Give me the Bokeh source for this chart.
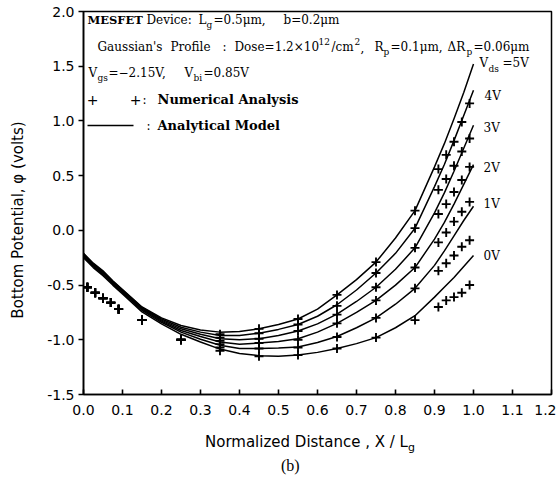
import math
from bokeh.plotting import figure
from bokeh.models import Label, Range1d, FixedTicker, PrintfTickFormatter, BoxAnnotation, Div
from bokeh.layouts import column, row
from bokeh.embed import file_html
from bokeh.resources import INLINE

# ---------------- data ----------------
vds_labels = ["5V", "4V", "3V", "2V", "1V", "0V"]

x_model = [0.0, 0.025, 0.05, 0.075, 0.1, 0.15, 0.2, 0.25, 0.3, 0.35, 0.4, 0.45, 0.5,
           0.55, 0.6, 0.65, 0.7, 0.75, 0.8, 0.85, 0.9, 0.925, 0.95, 0.975, 1.0]

model_5V = [-0.21, -0.30, -0.37, -0.46, -0.54, -0.70, -0.80, -0.87, -0.91, -0.93, -0.925, -0.90, -0.86,
            -0.81, -0.72, -0.59, -0.45, -0.29, -0.07, 0.18, 0.58, 0.79, 1.02, 1.26, 1.52]
model_4V = [-0.215, -0.305, -0.38, -0.465, -0.545, -0.705, -0.81, -0.885, -0.93, -0.96, -0.96, -0.94, -0.905,
            -0.86, -0.785, -0.68, -0.545, -0.39, -0.21, 0.02, 0.40, 0.60, 0.82, 1.05, 1.28]
model_3V = [-0.22, -0.31, -0.385, -0.47, -0.55, -0.71, -0.82, -0.90, -0.95, -0.99, -1.00, -0.99, -0.96,
            -0.92, -0.855, -0.765, -0.65, -0.52, -0.355, -0.16, 0.16, 0.34, 0.54, 0.75, 0.96]
model_2V = [-0.23, -0.32, -0.395, -0.48, -0.56, -0.72, -0.83, -0.915, -0.97, -1.02, -1.04, -1.03, -1.015,
            -0.99, -0.93, -0.85, -0.75, -0.64, -0.50, -0.34, -0.08, 0.07, 0.24, 0.42, 0.60]
model_1V = [-0.24, -0.33, -0.405, -0.49, -0.57, -0.73, -0.84, -0.93, -0.995, -1.05, -1.08, -1.08, -1.075,
            -1.065, -1.025, -0.97, -0.89, -0.80, -0.675, -0.53, -0.32, -0.19, -0.05, 0.09, 0.22]
model_0V = [-0.25, -0.34, -0.415, -0.50, -0.58, -0.745, -0.855, -0.95, -1.02, -1.085, -1.125, -1.145, -1.15,
            -1.14, -1.115, -1.08, -1.035, -0.98, -0.89, -0.78, -0.61, -0.52, -0.43, -0.33, -0.23]

x_num = [0.01, 0.03, 0.05, 0.07, 0.09, 0.15, 0.25, 0.35, 0.45, 0.55, 0.65, 0.75, 0.85,
         0.91, 0.93, 0.95, 0.97, 0.99]

num_5V = [-0.52, -0.57, -0.62, -0.66, -0.72, -0.82, -1.00, -0.95, -0.90, -0.81, -0.59, -0.29, 0.18,
          0.56, 0.69, 0.81, 0.99, 1.16]
num_4V = [-0.52, -0.57, -0.62, -0.66, -0.72, -0.82, -1.00, -0.98, -0.94, -0.86, -0.69, -0.39, 0.02,
          0.37, 0.47, 0.59, 0.72, 0.84]
num_3V = [-0.52, -0.57, -0.62, -0.66, -0.72, -0.82, -1.00, -1.01, -0.99, -0.92, -0.77, -0.52, -0.16,
          0.15, 0.24, 0.35, 0.46, 0.58]
num_2V = [-0.52, -0.57, -0.62, -0.66, -0.72, -0.82, -1.00, -1.04, -1.03, -1.00, -0.85, -0.64, -0.34,
          -0.11, -0.02, 0.08, 0.17, 0.26]
num_1V = [-0.52, -0.57, -0.62, -0.66, -0.72, -0.82, -1.00, -1.07, -1.08, -1.07, -0.975, -0.80, -0.53,
          -0.37, -0.30, -0.23, -0.15, -0.09]
num_0V = [-0.52, -0.57, -0.62, -0.66, -0.72, -0.82, -1.00, -1.10, -1.15, -1.14, -1.08, -0.98, -0.82,
          -0.70, -0.64, -0.61, -0.57, -0.50]

x_ticks = [0.0, 0.1, 0.2, 0.3, 0.4, 0.5, 0.6, 0.7, 0.8, 0.9, 1.0, 1.1, 1.2]
y_ticks = [-1.5, -1.0, -0.5, 0.0, 0.5, 1.0, 1.5, 2.0]

models = [model_5V, model_4V, model_3V, model_2V, model_1V, model_0V]
nums = [num_5V, num_4V, num_3V, num_2V, num_1V, num_0V]

# ---------------- figure ----------------
YLAB_W = 30                      # width of the column holding the y-axis title
W, H = 556 - YLAB_W, 426
BL, BR, BT, BB = 83 - YLAB_W, 5, 11, 32
p = figure(width=W, height=H, x_range=Range1d(0, 1.2), y_range=Range1d(-1.5, 2.0),
           output_backend="svg", toolbar_location=None,
           min_border_left=BL, min_border_right=BR, min_border_top=BT, min_border_bottom=BB)
p.background_fill_color = "white"
p.border_fill_color = "white"
p.outline_line_color = "black"
p.outline_line_width = 1.5
p.xgrid.visible = False
p.ygrid.visible = False

for ax in (p.xaxis, p.yaxis):
    ax.axis_line_width = 1.6
    ax.major_tick_line_width = 1.6
    ax.minor_tick_line_color = None
    ax.major_label_text_font = "DejaVu Sans"
    ax.major_label_text_font_size = "14px"
    ax.major_label_text_color = "black"
    ax.formatter = PrintfTickFormatter(format="%.1f")
p.xaxis.ticker = FixedTicker(ticks=x_ticks)
p.yaxis.ticker = FixedTicker(ticks=y_ticks)
p.xaxis.major_tick_in = 5
p.xaxis.major_tick_out = 0
p.xaxis.major_label_standoff = 10
p.yaxis.major_tick_in = 0
p.yaxis.major_tick_out = 5
p.yaxis.major_label_standoff = 4

for m in models:
    p.line(x_model, m, line_color="black", line_width=1.5)
for n in nums:
    p.scatter(x_num, n, marker="cross", size=9, line_color="black", line_width=1.9)

# ---------------- text helpers (page pixel -> data) ----------------
FX0, FY0 = YLAB_W + BL, BT
FW, FH = W - BL - BR, H - BT - BB

def dx(xp):
    return (xp - FX0) / FW * 1.2

def dy(yp):
    return 2.0 - (yp - FY0) / FH * 3.5

SERIF = "DejaVu Serif"

def txt(xp, yp, s, size=12, bold=False, font=SERIF, align="left"):
    p.add_layout(Label(x=dx(xp), y=dy(yp), text=s, text_font=font,
                       text_font_size=f"{size}px",
                       text_font_style="bold" if bold else "normal",
                       text_align=align, text_baseline="middle",
                       text_color="black"))

SUB = 9
# line 1
txt(87, 19, "MESFET", size=11.5, bold=True)
txt(146, 19, "Device:")
txt(198, 19, "L")
txt(206, 24, "g", size=SUB)
txt(213, 19, "=0.5μm,")
txt(283, 19, "b=0.2μm")
# line 2
txt(97, 46, "Gaussian's")
txt(170, 46, "Profile")
txt(222, 46, ":")
txt(234, 46, "Dose=1.2×10")
txt(318, 41, "12", size=SUB)
txt(331, 46, "/cm")
txt(354, 41, "2", size=SUB)
txt(360, 46, ",")
txt(374, 46, "R")
txt(383, 51, "p", size=SUB)
txt(390, 46, "=0.1μm,")
txt(447, 46, "ΔR")
txt(466, 51, "p", size=SUB)
txt(473, 46, "=0.06μm")
# line 3
txt(88, 72, "V")
txt(97, 77, "gs", size=SUB)
txt(108, 72, "=−2.15V,")
txt(184, 72, "V")
txt(193, 77, "bi", size=SUB)
txt(203, 72, "=0.85V")
# legend lines
txt(92, 99, "+", size=14, font="DejaVu Sans", align="center")
txt(135, 99, "+", size=14, font="DejaVu Sans", align="center")
txt(142, 99, ":")
txt(157, 99, "Numerical Analysis", size=13, bold=True)
p.add_layout(BoxAnnotation(left=dx(87), right=dx(133), top=dy(124.3), bottom=dy(125.7),
                           fill_color="black", fill_alpha=1.0, line_color=None))
txt(146, 125, ":")
txt(157, 125, "Analytical Model", size=13, bold=True)

# curve labels
txt(479, 62, "V")
txt(488, 68, "ds", size=SUB)
txt(502, 62, "=5V")
txt(484, 95, "4V")
txt(483, 127, "3V")
txt(483, 167, "2V")
txt(483, 203, "1V")
txt(483, 255, "0V")

ylab = Div(
    text=(
        f'<div style="position:relative;width:{YLAB_W}px;height:{H}px;color:black;">'
        '<span style="position:absolute;left:19px;top:220px;'
        'transform:translate(-50%,-50%) rotate(-90deg);white-space:nowrap;'
        'font-family:\'DejaVu Sans\';font-size:15px;">Bottom Potential, φ (volts)</span></div>'
    ),
    width=YLAB_W, height=H, margin=(0, 0, 0, 0),
)

caption = Div(
    text=(
        '<div style="position:relative;width:556px;height:51px;color:black;">'
        '<span style="position:absolute;left:205px;top:6px;font-family:\'DejaVu Sans\';'
        'font-size:15px;white-space:nowrap;">Normalized Distance , X / L'
        '<sub style="font-size:11px;">g</sub></span>'
        '<span style="position:absolute;left:281px;top:29px;font-family:\'Liberation Serif\';'
        'font-size:16px;">(b)</span></div>'
    ),
    width=556, height=51, margin=(0, 0, 0, 0),
)

layout = column(row(ylab, p, spacing=0), caption, spacing=0)
open("out.html", "w").write(file_html(layout, INLINE))
